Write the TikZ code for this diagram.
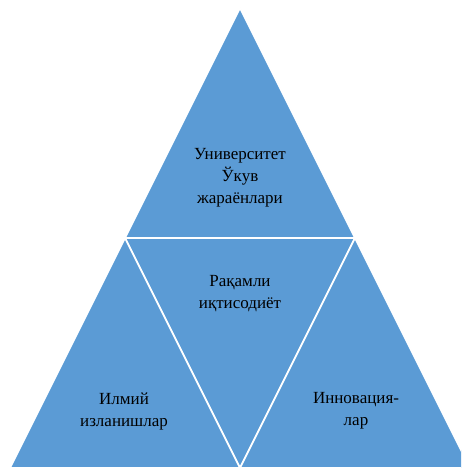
\documentclass[tikz,border=0pt]{standalone}
\usepackage{fontspec}
\setmainfont{Liberation Serif}
\definecolor{tri}{HTML}{5B9BD5}
\begin{document}
\begin{tikzpicture}[x=1pt,y=-1pt,
  part/.style={fill=tri,draw=white,line width=1.6pt,line join=miter},
  lbl/.style={align=center,text=black,font=\fontsize{17}{22}\selectfont,inner sep=0pt}]
\useasboundingbox (0,0) rectangle (461,468);
\clip (0,0) rectangle (461,468);
\coordinate (A) at (240,8);
\coordinate (L) at (125,238);
\coordinate (R) at (355,238);
\coordinate (M) at (240,468);
\coordinate (BL) at (10,468);
\coordinate (BR) at (470,468);
\filldraw[part] (A) -- (L) -- (R) -- cycle;
\filldraw[part] (L) -- (R) -- (M) -- cycle;
\filldraw[part] (L) -- (M) -- (BL) -- cycle;
\filldraw[part] (R) -- (BR) -- (M) -- cycle;
\node[lbl] (t1) at (240,178) {Университет\\Ўкув\\жараёнлари};
\node[lbl] (t2) at (240,294) {Рақамли\\иқтисодиёт};
\node[lbl] (t3) at (124,411) {Илмий\\изланишлар};
\node[lbl] (t4) at (356,411) {Инновация-\\лар};
\end{tikzpicture}
\end{document}
